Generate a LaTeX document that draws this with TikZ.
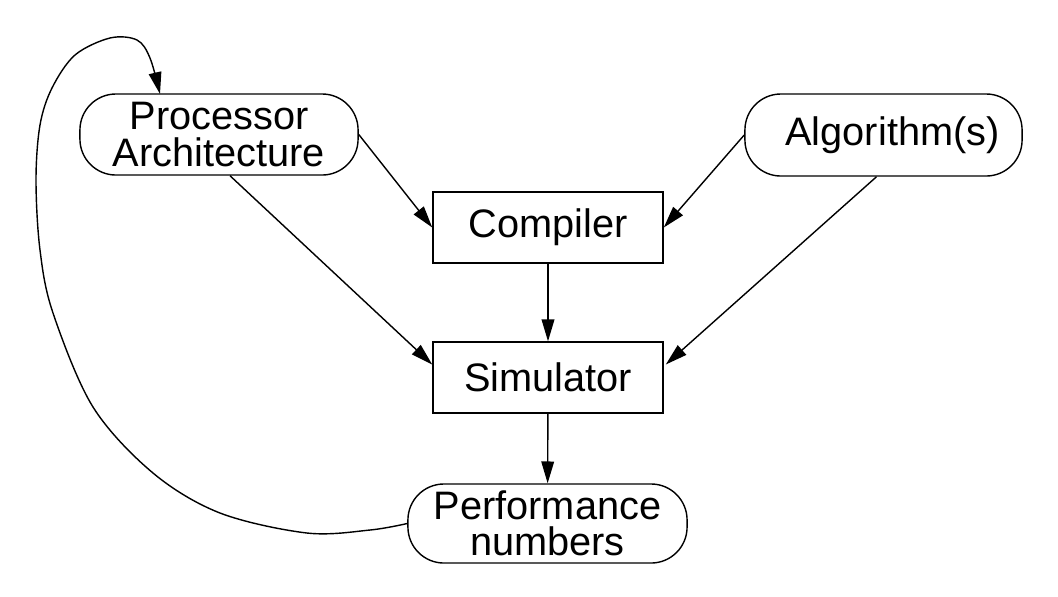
\documentclass[tikz,border=0pt]{standalone}
\usepackage{fontspec}
\setmainfont{Liberation Sans}
\usetikzlibrary{arrows.meta,calc}

\tikzset{
	blockbox/.style={draw, thin, rectangle, minimum width=2.30cm, minimum height=0.71cm, inner sep=0pt},
	roundbox/.style={draw, thin, rectangle, rounded corners=0.36cm, minimum width=2.78cm, minimum height=0.81cm, inner sep=0pt, align=center},
	flow/.style={thin, -{Triangle[length=6.2pt,width=3.6pt]}}
}

\begin{document}
\begin{tikzpicture}[x=0.01cm, y=-0.01cm, font=\fontsize{11.3}{10.3}\selectfont]
		\useasboundingbox (0,0) rectangle (1058,596);
		\node[roundbox] (arch) at (219,134.5) {Processor\\Architecture};
		\node[roundbox, minimum width=2.77cm, minimum height=0.82cm] (algo) at (883.5,135) {\hspace*{0.18cm}Algorithm(s)};
		\node[blockbox] (comp) at (548,227.5) {Compiler};
		\node[blockbox] (sim) at (548,377.5) {Simulator};
		\node[roundbox, minimum width=2.79cm, minimum height=0.79cm] (perf) at (547.5,523.5) {Performance\\numbers};
		\draw[flow] (arch.east) -- (comp.west);
		\draw[flow] (algo.west) -- (comp.east);
		\draw[flow] ($(arch.south)+(11,0)$) -- ($(sim.west)+(0,-13)$);
		\draw[flow] ($(algo.south)+(-7,0)$) -- ($(sim.east)+(2,-13)$);
		\draw[flow] (comp) -- (sim);
		\draw[flow] (sim) -- (perf);
		% feedback loop
		\draw[flow] plot[smooth, tension=0.55] coordinates {(perf.west) (370,530) (307,533) (220,513) (153,473) (93,407) (53,313) (40,250) (36,180) (40,125) (52,88) (75,55) (110,38) (137,40) (150,58) (160,94)};
	\end{tikzpicture}
\end{document}
